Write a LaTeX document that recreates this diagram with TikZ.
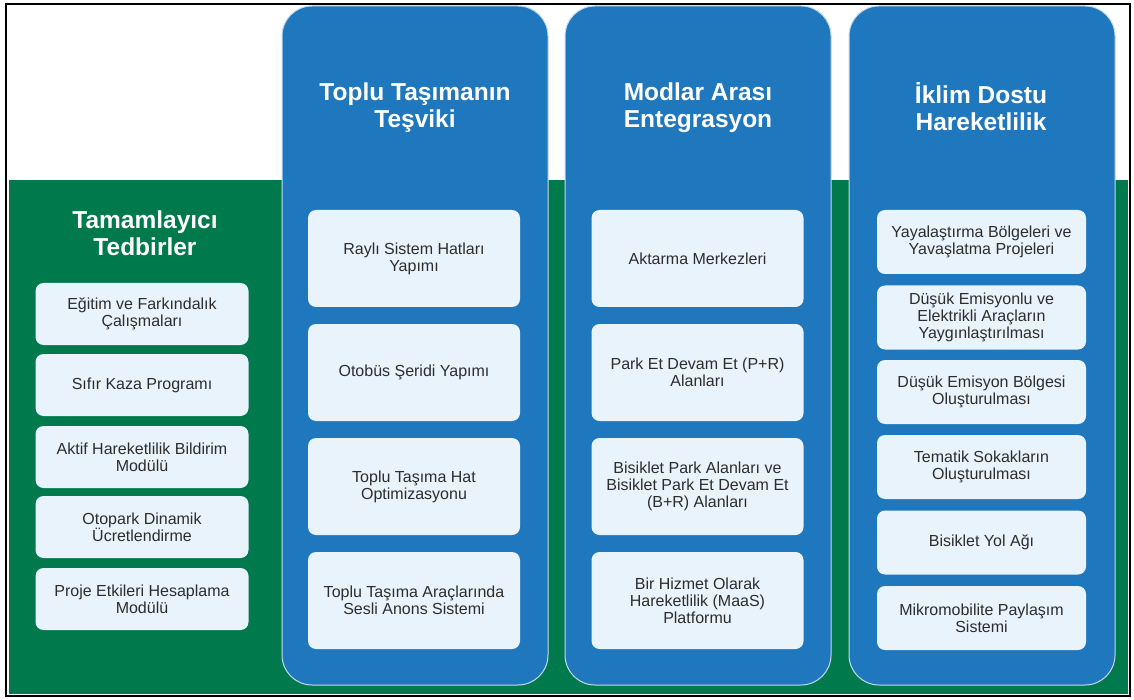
\documentclass[tikz,border=0pt]{standalone}
\usepackage{fontspec}
\setmainfont{Liberation Sans}
\definecolor{framegreen}{RGB}{0,121,76}
\definecolor{colblue}{RGB}{31,119,189}
\definecolor{colrim}{RGB}{196,218,236}
\definecolor{boxfill}{RGB}{233,243,251}
\definecolor{boxtext}{RGB}{45,45,45}
\begin{document}
\begin{tikzpicture}[x=1pt,y=-1pt,
  column/.style={fill=colblue,draw=colrim,line width=1pt,rounded corners=30pt},
  heading/.style={text=white,font=\fontsize{24.5}{27}\selectfont\bfseries,align=center},
  item/.style={fill=boxfill,rounded corners=8pt,align=center,text=boxtext,
    font=\fontsize{16}{17}\selectfont,inner sep=2pt},
  leftitem/.style={item,minimum width=213pt,minimum height=62pt},
  colitem/.style={item,minimum width=212pt,minimum height=97pt},
  climitem/.style={item,minimum width=209pt,minimum height=64pt}]
\useasboundingbox (0,0) rectangle (1134,700);
\fill[white] (0,0) rectangle (1134,700);
% green band behind the columns
\fill[framegreen] (9,180) rectangle (1128,694);
\draw[black,line width=2pt] (6,4) rectangle (1130,696);

% three blue columns
\draw[column] (282,6) rectangle (548,685);
\draw[column] (565,6) rectangle (831,685);
\draw[column] (849,6) rectangle (1115,685);

% headings
\node[heading] (tTam) at (145,233) {Tamamlayıcı\\Tedbirler};
\node[heading] (tTop) at (415,108) {Toplu Taşımanın\\Teşviki};
\node[heading] (tMod) at (698,108) {Modlar Arası\\Entegrasyon};
\node[heading] (tIkl) at (981,107) {İklim Dostu\\Hareketlilik};

% complementary measures
\node[leftitem] (l1) at (142,314) {Eğitim ve  Farkındalık\\Çalışmaları};
\node[leftitem] (l2) at (142,385) {Sıfır Kaza Programı};
\node[leftitem] (l3) at (142,457) {Aktif Hareketlilik Bildirim\\Modülü};
\node[leftitem] (l4) at (142,527) {Otopark Dinamik\\Ücretlendirme};
\node[leftitem] (l5) at (142,599) {Proje Etkileri Hesaplama\\Modülü};

% public transport
\node[colitem] (p1) at (414,258.5) {Raylı Sistem Hatları\\Yapımı};
\node[colitem] (p2) at (414,372.5) {Otobüs Şeridi Yapımı};
\node[colitem] (p3) at (414,486.5) {Toplu Taşıma Hat\\Optimizasyonu};
\node[colitem] (p4) at (414,600.5) {Toplu Taşıma Araçlarında\\Sesli Anons Sistemi};

% intermodal integration
\node[colitem] (m1) at (697.5,258.5) {Aktarma Merkezleri};
\node[colitem] (m2) at (697.5,372.5) {Park Et Devam Et (P+R)\\Alanları};
\node[colitem] (m3) at (697.5,486.5) {Bisiklet Park Alanları ve\\Bisiklet Park Et Devam Et\\(B+R) Alanları};
\node[colitem] (m4) at (697.5,600.5) {Bir Hizmet Olarak\\Hareketlilik (MaaS)\\Platformu};

% climate-friendly mobility
\node[climitem] (c1) at (981.5,242) {Yayalaştırma Bölgeleri ve\\Yavaşlatma Projeleri};
\node[climitem] (c2) at (981.5,317.5) {Düşük Emisyonlu ve\\Elektrikli Araçların\\Yaygınlaştırılması};
\node[climitem] (c3) at (981.5,392) {Düşük Emisyon Bölgesi\\Oluşturulması};
\node[climitem] (c4) at (981.5,467) {Tematik Sokakların\\Oluşturulması};
\node[climitem] (c5) at (981.5,542.5) {Bisiklet Yol Ağı};
\node[climitem] (c6) at (981.5,618) {Mikromobilite Paylaşım\\Sistemi};
\end{tikzpicture}
\end{document}
